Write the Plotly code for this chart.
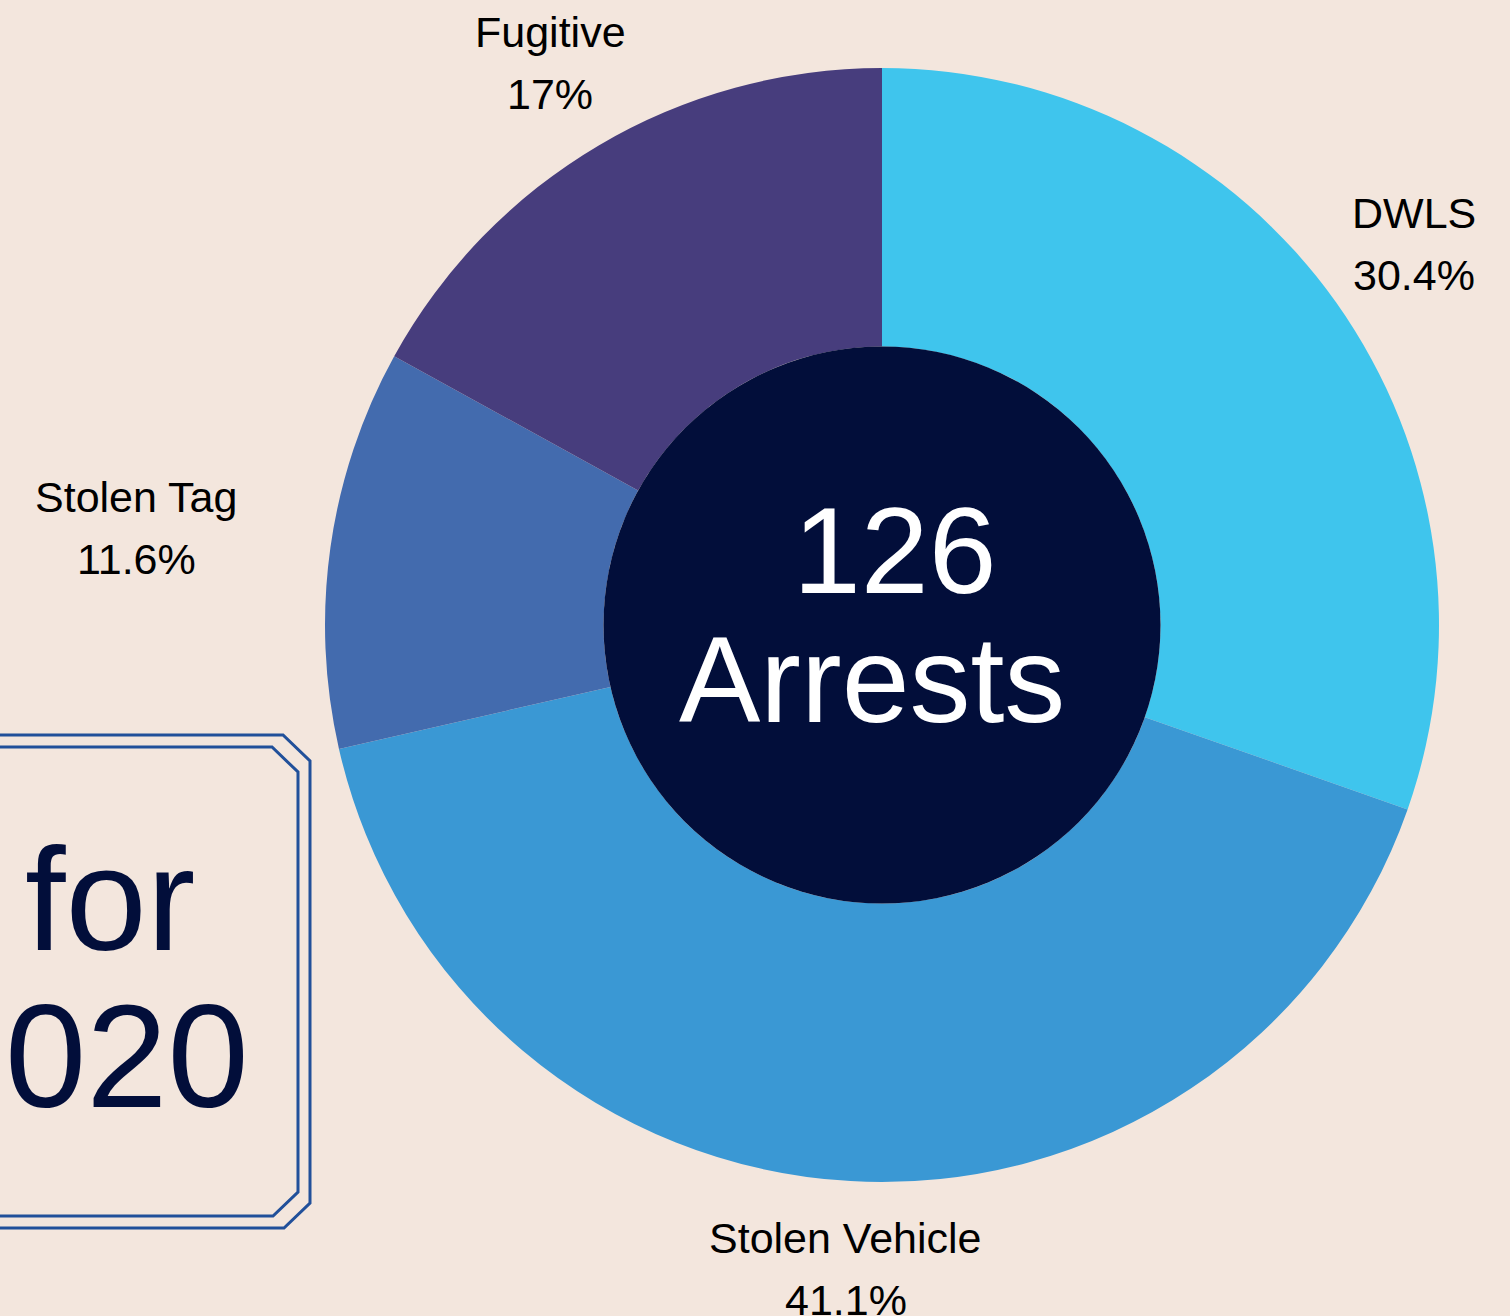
import math
import plotly.graph_objects as go

W, H = 1510, 1316

# ---- data ----
categories = ["DWLS", "Stolen Vehicle", "Stolen Tag", "Fugitive"]
percent_values = [30.4, 41.1, 11.6, 17.0]
slice_colors = ["#3FC5ED", "#3A98D4", "#436BAE", "#473D7D"]
total_arrests = 126
center_lines = [str(total_arrests), "Arrests"]
box_lines = ["for", "020"]

# ---- styling ----
label_distance = [652, 645, 753, 652]   # px from pie centre to label block centre
label_nudge_y = [-4, 0, 8, -1]          # small vertical fine-tuning (px)
BG = "#F3E6DD"
NAVY = "#020E3A"
BOX_BLUE = "#21509A"
FONT = "Liberation Sans, Arial, sans-serif"

def px(x):
    return x / W

def py(y):
    return 1 - y / H

# pie geometry (pixels)
CX, CY, R = 882, 625, 557
RH = 278.5

fig = go.Figure()

fig.add_trace(go.Pie(
    labels=categories,
    values=percent_values,
    marker=dict(colors=slice_colors, line=dict(width=0)),
    sort=False,
    direction="clockwise",
    rotation=0,
    hole=0.5,
    textinfo="none",
    domain=dict(x=[px(CX - R - 20), px(CX + R + 20)], y=[py(CY + R), py(CY - R)]),
    showlegend=False,
    hoverinfo="label+percent",
))

# dark centre disc
fig.add_trace(go.Pie(
    labels=["Total"],
    values=[total_arrests],
    marker=dict(colors=[NAVY], line=dict(width=0)),
    textinfo="none",
    sort=False,
    domain=dict(x=[px(CX - RH - 40), px(CX + RH + 40)], y=[py(CY + RH), py(CY - RH)]),
    showlegend=False,
    hoverinfo="skip",
))

annotations = [
    dict(text=center_lines[0], x=px(895), y=py(551), font=dict(family=FONT, size=122, color="white")),
    dict(text=center_lines[1], x=px(872), y=py(680), font=dict(family=FONT, size=122, color="white")),
    dict(text=box_lines[0], x=px(23), y=py(899), xanchor="left", font=dict(family=FONT, size=146, color=NAVY)),
    dict(text=box_lines[1], x=px(3), y=py(1056), xanchor="left", font=dict(family=FONT, size=146, color=NAVY)),
]

# outside labels positioned along each slice's mid-angle
total = sum(percent_values)
cum = 0.0
LABEL_SIZE = 43
LINE_GAP = 31
for name, v, d, nudge in zip(categories, percent_values, label_distance, label_nudge_y):
    frac_mid = (cum + v / 2) / total
    cum += v
    theta = 2 * math.pi * frac_mid
    lx = CX + d * math.sin(theta)
    ly = CY - d * math.cos(theta) + nudge
    pct = format(v / total * 100, ".3g") + "%"
    annotations.append(dict(text=name, x=px(lx), y=py(ly - LINE_GAP),
                            font=dict(family=FONT, size=LABEL_SIZE, color="#000000")))
    annotations.append(dict(text=pct, x=px(lx), y=py(ly + LINE_GAP),
                            font=dict(family=FONT, size=LABEL_SIZE, color="#000000")))

for a in annotations:
    a.setdefault("xanchor", "center")
    a.update(xref="paper", yref="paper", yanchor="middle", showarrow=False)

def path(points):
    return "M " + " L ".join(f"{px(x):.5f},{py(y):.5f}" for x, y in points)

outer = [(-10, 735), (283, 735), (310, 761), (310, 1203), (284, 1228), (-10, 1228)]
inner = [(-10, 747), (272, 747), (298, 772), (298, 1192), (273, 1216), (-10, 1216)]
shapes = [
    dict(type="path", path=path(outer), xref="paper", yref="paper", line=dict(color=BOX_BLUE, width=3)),
    dict(type="path", path=path(inner), xref="paper", yref="paper", line=dict(color=BOX_BLUE, width=3)),
]

fig.update_layout(
    width=W, height=H,
    margin=dict(l=0, r=0, t=0, b=0),
    paper_bgcolor=BG, plot_bgcolor=BG,
    annotations=annotations,
    shapes=shapes,
    showlegend=False,
)

fig.write_html(
    "out.html",
    config={"displayModeBar": False},
    post_script="document.body.style.margin='0';document.body.style.overflow='hidden';",
)
